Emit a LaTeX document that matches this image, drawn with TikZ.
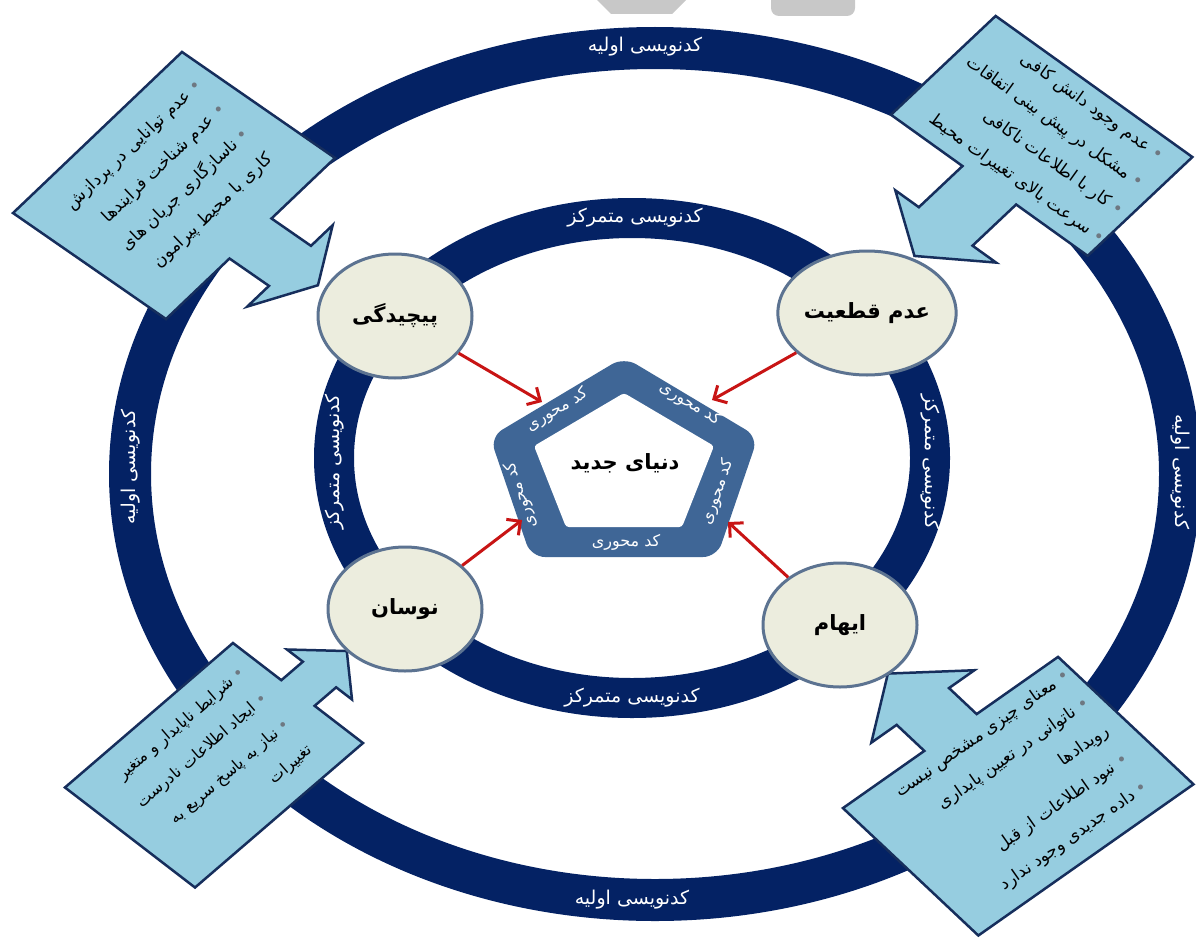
\documentclass[tikz,border=0pt]{standalone}
\usepackage{fontspec}
\usepackage{graphicx}
\setmainfont{DejaVu Sans}
\newfontfamily\fa[Script=Arabic]{DejaVu Sans}
\TeXXeTstate=1
\usetikzlibrary{arrows.meta,shapes.geometric}
\definecolor{ringnavy}{RGB}{4,34,100}
\definecolor{pentblue}{RGB}{63,102,150}
\definecolor{callfill}{RGB}{150,205,224}
\definecolor{calldraw}{RGB}{22,46,92}
\definecolor{circfill}{RGB}{236,237,222}
\definecolor{circdraw}{RGB}{92,115,145}
\definecolor{arrred}{RGB}{200,20,20}
\definecolor{wmgray}{RGB}{200,200,200}
\definecolor{bulgray}{RGB}{110,120,130}
\newcommand\bul{~\textcolor{bulgray}{•}}
\begin{document}
\begin{tikzpicture}[x=1pt,y=-1pt,
  ringtext/.style={text=white,font=\fa\fontsize{19}{22}\selectfont,inner sep=0pt},
  callout/.style={fill=callfill,draw=calldraw,line width=2.5pt,line join=miter},
  calltext/.style={font=\fa\fontsize{17}{34}\selectfont,align=right,text=black,inner sep=0pt},
  circ/.style={ellipse,fill=circfill,draw=circdraw,line width=3pt,minimum width=154pt,minimum height=124pt,font=\fa\bfseries\fontsize{21}{24}\selectfont,inner sep=0pt},
  pentext/.style={text=white,font=\fa\fontsize{16}{18}\selectfont,inner sep=0pt},
  redarrow/.style={draw=arrred,line width=3pt,-{Straight Barb[length=10pt,width=20pt]}}
]
\useasboundingbox (0,0) rectangle (1196,942);
\fill[white] (0,0) rectangle (1196,942);
% cropped watermark at the top edge
\fill[wmgray] (597,0) -- (686,0) -- (672,14) -- (611,14) -- cycle;
\fill[wmgray, rounded corners=8pt] (771,-12) rectangle (855,16);
% rings
\draw[ringnavy, line width=42pt] (655,474) ellipse [x radius=525, y radius=426];
\draw[ringnavy, line width=40pt] (632,458) ellipse [x radius=298, y radius=240];
% callouts
\begin{scope}[shift={(97.5,132.5)}, x={(0.8226pt,-0.5699pt)}, y={(0.724pt,0.690pt)}]
  \draw[callout] (0,-116.7) -- (186,-116.7) -- (186,-29) -- (234,-29) -- (234,-59) -- (268,0) -- (234,59) -- (234,29) -- (186,29) -- (186,116.7) -- (0,116.7) -- cycle;
\end{scope}
\begin{scope}[shift={(1094,86.5)}, x={(-0.727pt,-0.686pt)}, y={(0.813pt,-0.583pt)}]
  \draw[callout] (0,-121) -- (144,-121) -- (144,-33) -- (204,-33) -- (204,-62) -- (247,0) -- (204,62) -- (204,33) -- (144,33) -- (144,121) -- (0,121) -- cycle;
\end{scope}
\begin{scope}[shift={(130,837.5)}, x={(0.758pt,0.652pt)}, y={(0.793pt,-0.610pt)}]
  \draw[callout] (0,-82) -- (221.6,-82) -- (221.6,-21) -- (250,-21) -- (250,-41) -- (286,0) -- (250,41) -- (250,21) -- (221.6,21) -- (221.6,82) -- (0,82) -- cycle;
\end{scope}
\begin{scope}[shift={(1085.9,859.9)}, x={(-0.728pt,0.685pt)}, y={(0.818pt,0.575pt)}]
  \draw[callout] (0,-131.5) -- (186,-131.5) -- (186,-32) -- (224,-32) -- (224,-63) -- (272,0) -- (224,63) -- (224,32) -- (186,32) -- (186,131.5) -- (0,131.5) -- cycle;
\end{scope}
% callout texts
\node[calltext, rotate=43.6] (tltext) at (170,182) {\beginR عدم توانایی در پردازش\endR\bul\\\beginR عدم شناخت فرایندها\endR\bul\\\beginR ناسازگاری جریان های\endR\bul\\\beginR کاری با محیط پیرامون\endR};
\node[calltext, rotate=-35.6] (trtext) at (1045,137) {\beginR عدم وجود دانش کافی\endR\bul\\\beginR مشکل در پیش بینی اتفاقات\endR\bul\\\beginR کار با اطلاعات ناکافی\endR\bul\\\beginR سرعت بالای تغییرات محیط\endR\bul};
\node[calltext, font=\fa\fontsize{16}{34}\selectfont, rotate=40.7] (bltext) at (214,764) {\beginR شرایط ناپایدار و متغیر\endR\bul\\\beginR ایجاد اطلاعات نادرست\endR\bul\\\beginR نیاز به پاسخ سریع به\endR\bul\\\beginR تغییرات\endR};
\node[calltext, rotate=35.1] (brtext) at (1022,790) {\beginR معنای چیزی مشخص نیست\endR\bul\\\beginR ناتوانی در تعیین پایداری\endR\bul\\\beginR رویدادها\endR\hspace{40pt}\\\beginR نبود اطلاعات از قبل\endR\bul\\\beginR داده جدیدی وجود ندارد\endR\bul};
% ring labels
\node[ringtext] (ot) at (645,47) {\beginR کدنویسی اولیه\endR};
\node[ringtext] (ob) at (632,900) {\beginR کدنویسی اولیه\endR};
\node[ringtext, rotate=90] (ol) at (131,467) {\beginR کدنویسی اولیه\endR};
\node[ringtext, rotate=-90] (or) at (1180,472) {\beginR کدنویسی اولیه\endR};
\node[ringtext] (it) at (635,218) {\beginR کدنویسی متمرکز\endR};
\node[ringtext] (ib) at (632,698) {\beginR کدنویسی متمرکز\endR};
\node[ringtext, rotate=90] (il) at (335,462) {\beginR کدنویسی متمرکز\endR};
\node[ringtext, rotate=-90] (ir) at (930,462) {\beginR کدنویسی متمرکز\endR};
% circles
\node[circ] (pich) at (395,316) {\beginR پیچیدگی\endR};
\node[circ] (adam) at (867,313) {\beginR عدم قطعیت\endR};
\node[circ] (navs) at (405,609) {\beginR نوسان\endR};
\node[circ] (ebham) at (840,625) {\beginR ایهام\endR};
% pentagon
\fill[pentblue, rounded corners=14pt] (624,357) -- (758,437) -- (717,557) -- (531,557) -- (490,437) -- cycle;
\fill[white, rounded corners=3pt] (624,393) -- (714,446) -- (682,527) -- (566,527) -- (534,446) -- cycle;
\node[pentext, rotate=31] (k1) at (557,410) {\beginR کد محوری\endR};
\node[pentext, rotate=-31] (k2) at (690,404) {\beginR کد محوری\endR};
\node[pentext, rotate=71] (k3) at (718,492) {\beginR کد محوری\endR};
\node[pentext] (k4) at (626,542) {\beginR کد محوری\endR};
\node[pentext, rotate=109] (k5) at (521,495) {\beginR کد محوری\endR};
\node[font=\fa\bfseries\fontsize{21}{24}\selectfont, inner sep=0pt] (world) at (625,463) {\beginR دنیای جدید\endR};
% red arrows
\coordinate (t1) at (542,402);
\coordinate (t2) at (712,400);
\coordinate (t3) at (522,520);
\coordinate (t4) at (728,522);
\draw[redarrow] (pich) -- (t1);
\draw[redarrow] (adam) -- (t2);
\draw[redarrow] (navs) -- (t3);
\draw[redarrow] (ebham) -- (t4);
\end{tikzpicture}
\end{document}
